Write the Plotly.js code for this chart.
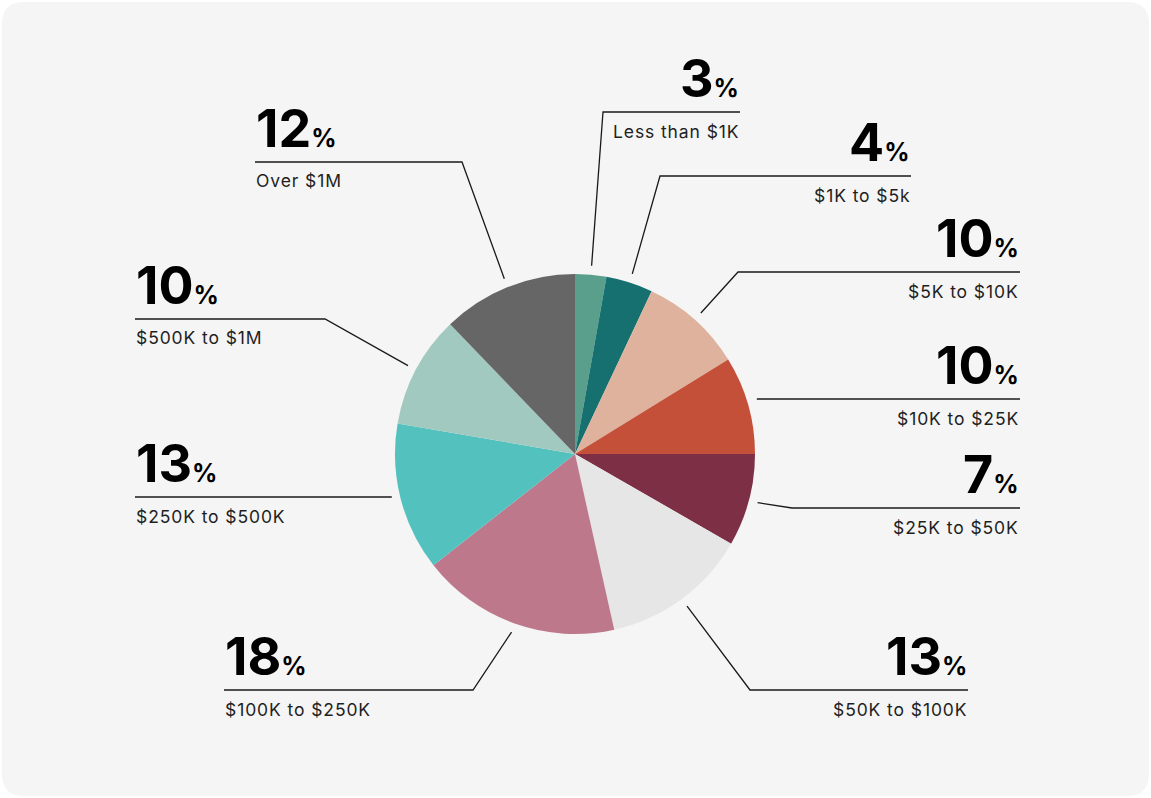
<!DOCTYPE html>
<html>
<head>
<meta charset="utf-8">
<script src="https://cdn.plot.ly/plotly-3.0.1.min.js"></script>
<style>
  html, body { margin: 0; padding: 0; background: #ffffff; }
  #chart { width: 1151px; height: 798px; }
</style>
</head>
<body>
<div id="chart"></div>
<script>
// ---- data ----
const categories = ['Less than $1K', '$1K to $5k', '$5K to $10K', '$10K to $25K', '$25K to $50K',
                    '$50K to $100K', '$100K to $250K', '$250K to $500K', '$500K to $1M', 'Over $1M'];
const shares = [2.8, 4.2, 9.2, 8.8, 8.3, 13.2, 17.9, 13.3, 10.1, 12.2];
const pctLabels = ['3', '4', '10', '10', '7', '13', '18', '13', '10', '12'];
const sliceColors = ['#5a9e8c', '#167070', '#deb29c', '#c4503a', '#7d3045',
                     '#e6e6e6', '#bd788c', '#53c1be', '#a1c9bf', '#666666'];

// ---- layout helpers ----
const W = 1151, H = 798;
const CX = 575, CY = 454, R = 180;
const px = x => x / W;
const py = y => 1 - y / H;

// label placement (pixel positions of the label rule line)
const labelPlace = [
  {side: 'right', y: 112, x0: 603, x1: 740},
  {side: 'right', y: 176, x0: 660, x1: 911},
  {side: 'right', y: 272, x0: 738, x1: 1020},
  {side: 'right', y: 399, x0: 792, x1: 1020},
  {side: 'right', y: 508, x0: 792, x1: 1020},
  {side: 'right', y: 690, x0: 750, x1: 968},
  {side: 'left',  y: 690, x0: 224, x1: 473},
  {side: 'left',  y: 497, x0: 135, x1: 386},
  {side: 'left',  y: 319, x0: 135, x1: 325},
  {side: 'left',  y: 162, x0: 255, x1: 462}
];

const FONT = 'Inter, "Open Sans", sans-serif';
const total = shares.reduce((a, b) => a + b, 0);
const shapes = [];
const annotations = [];

// rounded card background
(function () {
  const l = 2, t = 2, r = W - 2, b = H - 2, rad = 22;
  const p = (x, y) => px(x) + ',' + py(y);
  const path = 'M' + p(l + rad, t) + ' L' + p(r - rad, t) + ' Q' + p(r, t) + ' ' + p(r, t + rad) +
    ' L' + p(r, b - rad) + ' Q' + p(r, b) + ' ' + p(r - rad, b) +
    ' L' + p(l + rad, b) + ' Q' + p(l, b) + ' ' + p(l, b - rad) +
    ' L' + p(l, t + rad) + ' Q' + p(l, t) + ' ' + p(l + rad, t) + ' Z';
  shapes.push({type: 'path', xref: 'paper', yref: 'paper', path: path,
    fillcolor: '#f5f5f5', line: {width: 0}, layer: 'below'});
})();

let cum = 0;
shares.forEach((v, i) => {
  const mid = (cum + v / 2) / total;
  cum += v;
  const th = mid * 2 * Math.PI;
  const rr = R + 9;
  let ix = CX + rr * Math.sin(th);
  let iy = CY - rr * Math.cos(th);
  const L = labelPlace[i];
  const ex = L.side === 'right' ? L.x0 : L.x1;
  const fx = L.side === 'right' ? L.x1 : L.x0;
  // nearly-horizontal leaders are drawn as a straight rule
  if (Math.abs(iy - L.y) < 5) { iy = L.y; }
  shapes.push({
    type: 'path', xref: 'paper', yref: 'paper',
    path: 'M' + px(ix) + ',' + py(iy) + ' L' + px(ex) + ',' + py(L.y) + ' L' + px(fx) + ',' + py(L.y),
    line: {color: '#1a1a1a', width: 1.3}
  });
  const ax = L.side === 'right' ? L.x1 : L.x0;
  annotations.push({
    xref: 'paper', yref: 'paper', x: px(ax), y: py(L.y - 1),
    xanchor: L.side, yanchor: 'bottom', showarrow: false, borderpad: 0,
    text: '<b>' + pctLabels[i] + '<span style="font-size:25px">%</span></b>',
    font: {family: FONT, size: 52, color: '#000000'}
  });
  annotations.push({
    xref: 'paper', yref: 'paper', x: px(ax), y: py(L.y + 19),
    xanchor: L.side, yanchor: 'middle', showarrow: false, borderpad: 0,
    text: '<span style="letter-spacing:0.9px">' + categories[i] + '</span>',
    font: {family: FONT, size: 17.5, color: '#1f1f1f'}
  });
});

const trace = {
  type: 'pie',
  labels: categories,
  values: shares,
  sort: false,
  direction: 'clockwise',
  rotation: 0,
  textinfo: 'none',
  hoverinfo: 'label+percent',
  showlegend: false,
  marker: {colors: sliceColors, line: {width: 0}},
  domain: {x: [px(CX - R), px(CX + R)], y: [py(CY + R), py(CY - R)]}
};

const layout = {
  width: W, height: H,
  margin: {l: 0, r: 0, t: 0, b: 0},
  paper_bgcolor: '#ffffff',
  plot_bgcolor: 'rgba(0,0,0,0)',
  showlegend: false,
  shapes: shapes,
  annotations: annotations,
  font: {family: FONT}
};

Plotly.newPlot('chart', [trace], layout, {displayModeBar: false});
</script>
</body>
</html>
